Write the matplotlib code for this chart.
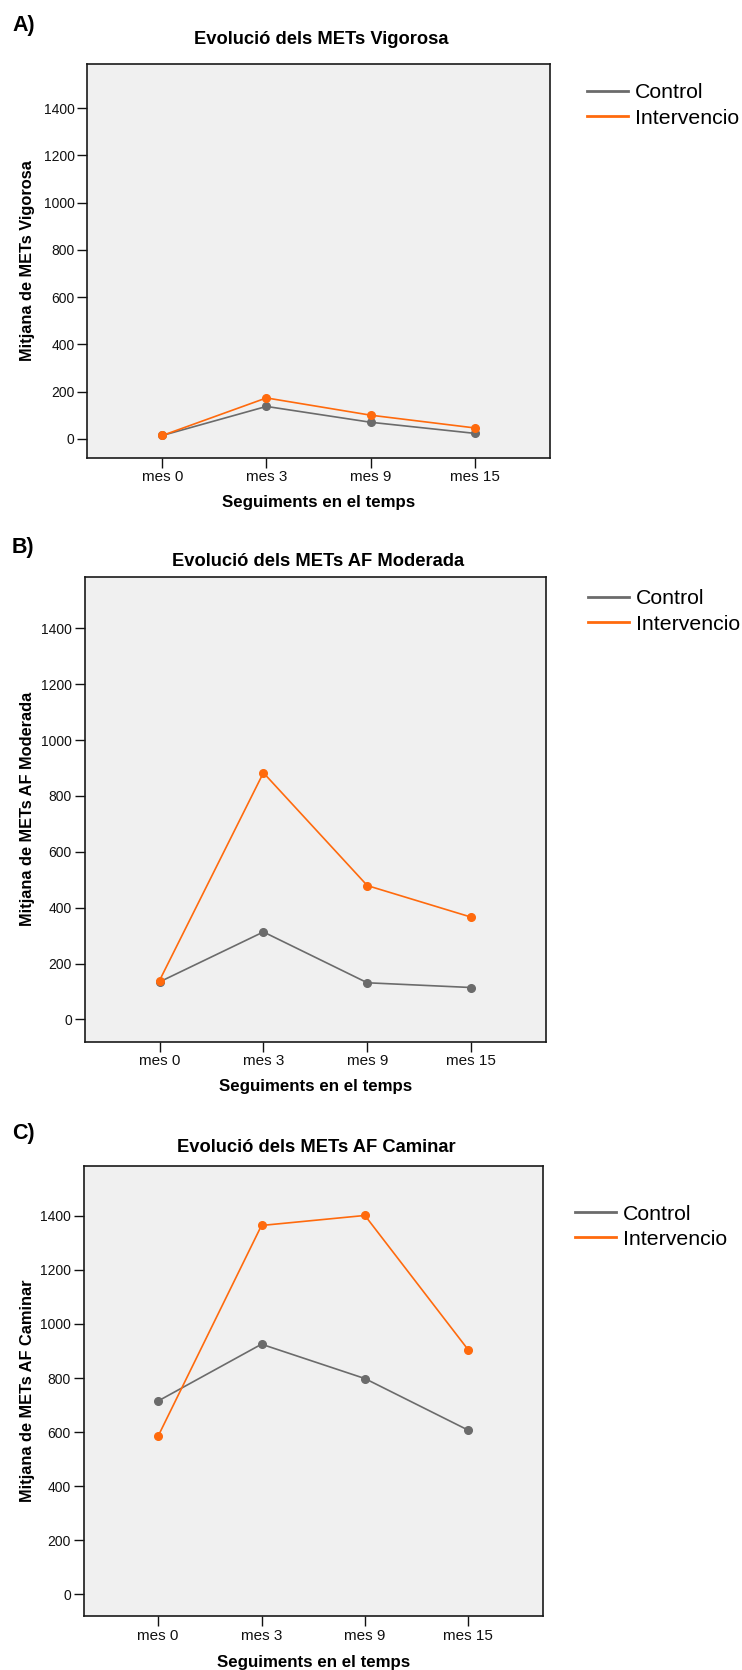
import matplotlib
matplotlib.use("Agg")
import matplotlib.pyplot as plt
import numpy as np

plt.rcParams['font.family'] = ['Liberation Sans', 'DejaVu Sans']

# Data
months = ['mes 0', 'mes 3', 'mes 9', 'mes 15']
groups = ['Control', 'Intervencio']

vig_control = [14, 137, 70, 23]
vig_interv = [14, 173, 100, 46]

mod_control = [134, 313, 131, 114]
mod_interv = [139, 883, 479, 366]

cam_control = [715, 925, 798, 607]
cam_interv = [585, 1364, 1401, 904]

y_ticks = [0, 200, 400, 600, 800, 1000, 1200, 1400]

panels = [
    ('A)', 'Evolució dels METs Vigorosa', 'Mitjana de METs Vigorosa', vig_control, vig_interv),
    ('B)', 'Evolució dels METs AF Moderada', 'Mitjana de METs AF Moderada', mod_control, mod_interv),
    ('C)', 'Evolució dels METs AF Caminar', 'Mitjana de METs AF Caminar', cam_control, cam_interv),
]

W, H = 742, 1670
# axes boxes in pixels: left, right, top, bottom
boxes = [(87.3, 549.7, 64.3, 457.7), (84.7, 546.0, 576.7, 1041.7), (83.7, 542.7, 1165.7, 1616.0)]
# panel letter y, title y, xlabel y, legend (x, first-row y)
letter_y = [25, 548, 1133]
title_y = [39, 561, 1148]
xlabel_y = [502, 1086, 1662]
legend_pos = [(587, 93), (588, 599), (575, 1214)]

col_ctrl = '#6b6b6b'
col_int = '#ff6a0d'

fig = plt.figure(figsize=(W / 100, H / 100), dpi=100)


def fx(px):
    return px / W


def fy(py):
    return 1 - py / H


for i, (letter, title, ylab, ctrl, inter) in enumerate(panels):
    l, r, t, b = boxes[i]
    ax = fig.add_axes([fx(l), fy(b), (r - l) / W, (b - t) / H])
    ax.set_facecolor('#f0f0f0')
    x = np.arange(len(months))
    ax.plot(x, ctrl, color=col_ctrl, lw=1.2, marker='o', ms=5.5, label=groups[0], zorder=3)
    ax.plot(x, inter, color=col_int, lw=1.2, marker='o', ms=5.5, label=groups[1], zorder=4)
    ax.set_xlim(-0.72, 3.72)
    ax.set_ylim(-80, 1585)
    ax.set_xticks(x)
    ax.set_xticklabels(months, fontsize=11)
    ax.set_yticks(y_ticks)
    ax.set_yticklabels([str(v) for v in y_ticks], fontsize=10)
    ax.tick_params(direction='out', length=7.2, width=1.0, pad=2, colors='#111111')
    for s in ax.spines.values():
        s.set_color('#1a1a1a')
        s.set_linewidth(1.2)

    cx = (l + r) / 2
    fig.text(fx(12), fy(letter_y[i]), letter, fontsize=15.5, fontweight='bold',
             ha='left', va='center')
    fig.text(fx(cx + 3), fy(title_y[i]), title, fontsize=13.2, fontweight='bold',
             ha='center', va='center')
    fig.text(fx(cx), fy(xlabel_y[i]), 'Seguiments en el temps', fontsize=12.2,
             fontweight='bold', ha='center', va='center')
    fig.text(fx(28), fy((t + b) / 2), ylab, fontsize=11.8, fontweight='bold',
             rotation=90, ha='center', va='center')

    lx, ly = legend_pos[i]
    ax.legend(loc='upper left', bbox_to_anchor=(fx(lx), fy(ly - 9.5)),
              bbox_transform=fig.transFigure, frameon=False, fontsize=15.3,
              handlelength=1.95, handletextpad=0.3, labelspacing=0.3,
              borderpad=0, borderaxespad=0)
    leg = ax.get_legend()
    for line in leg.get_lines():
        line.set_marker('')
        line.set_linewidth(2.0)

fig.savefig('out.png', dpi=100)
